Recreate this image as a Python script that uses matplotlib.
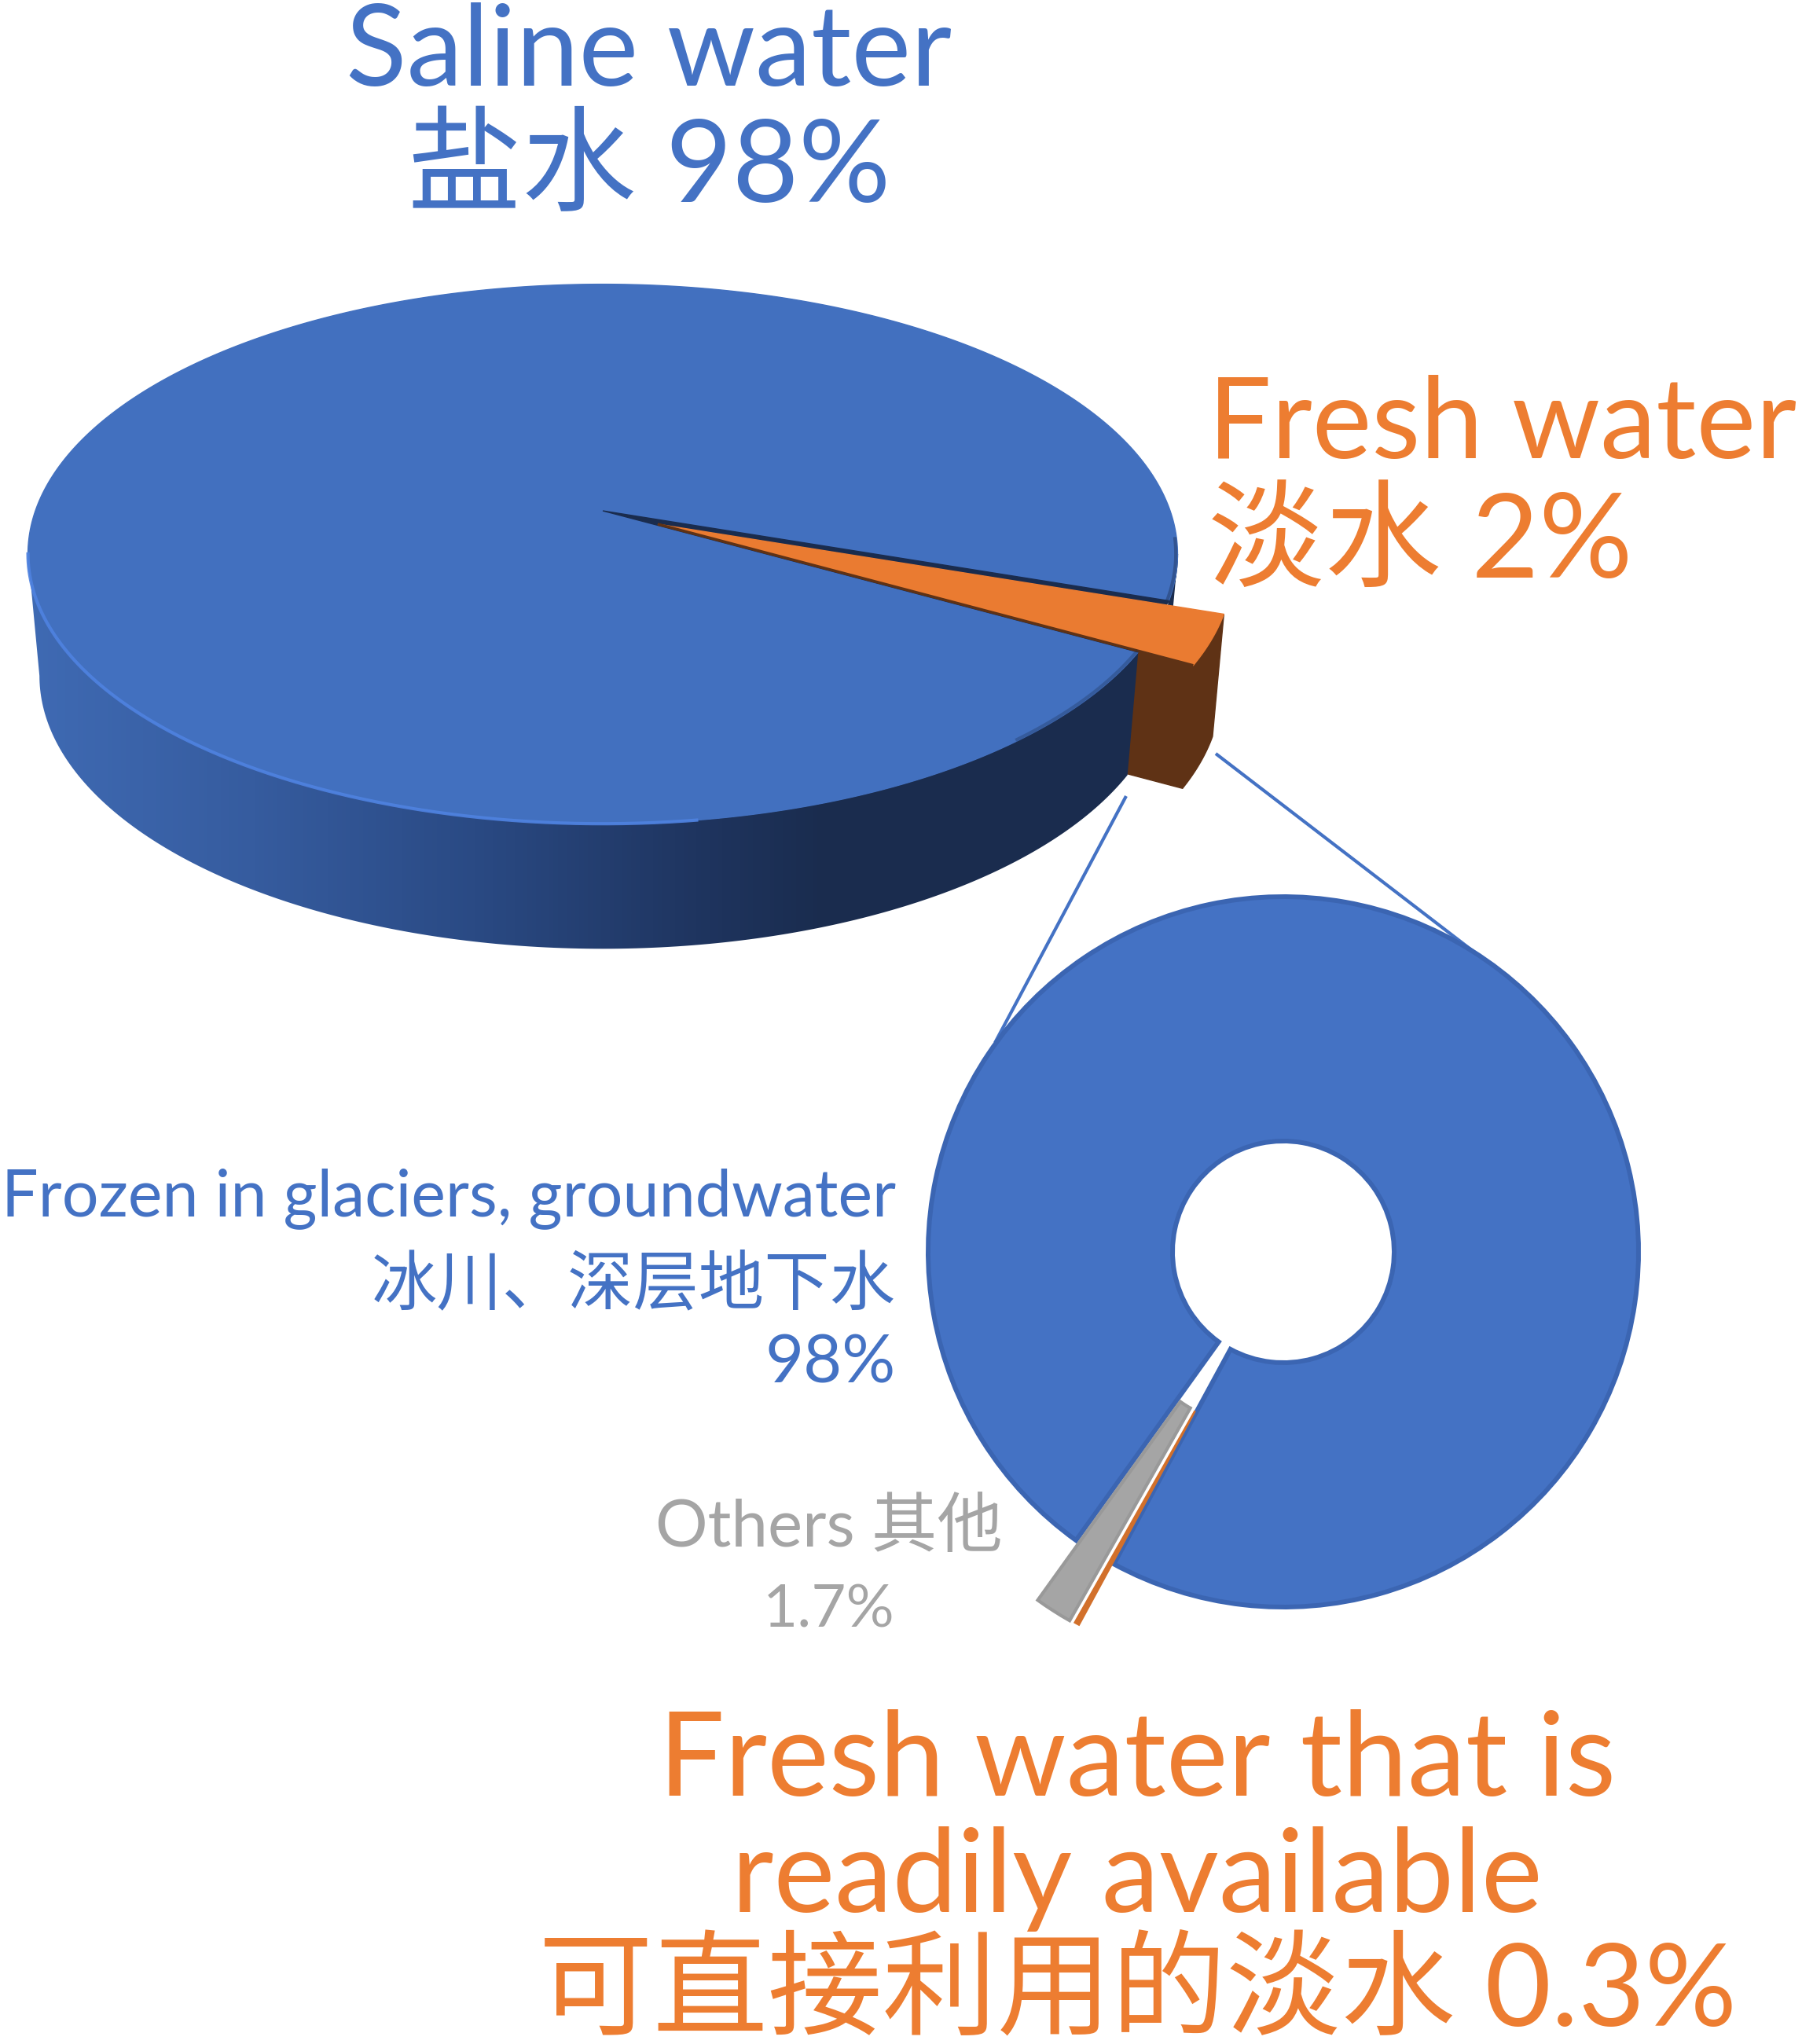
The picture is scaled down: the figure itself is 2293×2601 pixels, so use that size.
#!/usr/bin/env python3
# Saline / fresh water shares: tilted pie on top, donut for the fresh water below

import numpy as np
import matplotlib
matplotlib.use("Agg")
import matplotlib.pyplot as plt
from matplotlib.colors import LinearSegmentedColormap
from matplotlib.patches import Polygon

plt.rcParams['font.family'] = ['Lato', 'Noto Sans CJK SC', 'DejaVu Sans']

# data
world_labels = ['Saline water', 'Fresh water']
world_values = [98, 2]
fresh_labels = ['Frozen in glaciers, groundwater', 'Others', 'Readily available']
fresh_values = [98, 1.7, 0.3]

BLUE = '#4472C4'
ORANGE = '#ED7D31'
GRAY = '#A5A5A5'
NAVY = '#1A2C4E'

W, H = 2293, 2601

# view of the tilted pie, in pixels
apex_x, apex_y = 767, 650
k, a, b = 0.16, 334.5, 722
ell_cy, wall_cy = 706, 861
wall_sx, wall_sy = 0.98, 1.012
slice_mid = -24.3      # direction of the fresh water slice
view_widen = 1.49      # the 3d view makes the slice look wider than its share
pull = (70, 17)        # how far the slice is pulled out
side = np.degrees(np.arcsin(k))   # where the outline is widest


def project(theta, z=0, r=1.0):
    # circle of the pie -> picture, z=0 top face, z=1 bottom face
    t = np.radians(theta)
    u, v = r*np.cos(t), r*np.sin(t)
    x = apex_x + b*u/(1 + k*v)
    y = apex_y - a*v/(1 + k*v)
    if z:
        x = apex_x + wall_sx*(x - apex_x)
        y = wall_cy + wall_sy*(y - ell_cy)
    return np.column_stack([x, y])


fig = plt.figure(figsize=(W/100, H/100), dpi=100)
ax = fig.add_axes([0, 0, 1, 1])

half = world_values[1]/sum(world_values)*360/2*view_widen
lo, hi = slice_mid - half, slice_mid + half
apex = np.array([[apex_x, apex_y]])
off = np.array(pull)

# short wall behind the slice
back = np.linspace(hi, -side, 20)
ax.add_patch(Polygon(np.vstack([project(back), project(back[::-1], 1)]),
                     fc=NAVY, ec=NAVY, zorder=-3))

# walls of the pulled out slice
arc = np.linspace(lo, hi, 20)
brown = '#5F3215'
ax.add_patch(Polygon(np.vstack([project(arc) + off, project(arc[::-1], 1) + off]),
                     fc=brown, ec=brown, zorder=-2))
ax.add_patch(Polygon(np.vstack([apex + off, project(lo) + off, project(lo, 1) + off, apex + off + [0, 160]]),
                     fc=brown, ec=brown, zorder=-2))

# wall of the big slice, dark to the right
front = np.linspace(180 + side, 360 + lo, 200)
wall = Polygon(np.vstack([project(front), project(front[::-1], 1)]), fc='none', ec='none')
ax.add_patch(wall)
cmap = LinearSegmentedColormap.from_list('wall', [(0, '#3F6AB3'), (0.2, '#365C9F'), (0.4, '#2A4A84'),
                                                  (0.6, '#1F3560'), (0.72, NAVY), (1, NAVY)])
im = ax.imshow(np.linspace(0, 1, 256).reshape(1, -1), cmap=cmap, extent=(36, 1450, 1215, 650),
               aspect='auto', interpolation='bilinear', zorder=0)
im.set_clip_path(wall)

# top faces
top_blue = '#4270BF'
rest = np.linspace(hi, 360 + lo, 500)
ax.add_patch(Polygon(np.vstack([apex, project(rest)]), fc=top_blue, ec=top_blue, lw=1, zorder=1))
ax.add_patch(Polygon(np.vstack([apex, project(hi), project(lo)]), fc=NAVY, ec=NAVY, lw=1, zorder=1))
ax.add_patch(Polygon(np.vstack([apex + off, project(arc) + off]), fc='#EA7B31', ec='#EA7B31', lw=1, zorder=2))
edge = np.vstack([apex + off, project(lo) + off])
ax.plot(edge[:, 0], edge[:, 1], color=brown, lw=2.5, solid_capstyle='butt', zorder=3)

# light rim along the front left, soft dark one on the right
rim = project(np.linspace(180 + side, 278, 200))
ax.plot(rim[:, 0], rim[:, 1], color='#4F82E0', lw=3, alpha=0.9, zorder=3)
shade = project(np.linspace(310, 360 + lo, 40), r=0.997)
ax.plot(shade[:, 0], shade[:, 1], color=NAVY, lw=3, alpha=0.3, zorder=3)
shade = project(np.linspace(hi, -6, 20), r=0.997)
ax.plot(shade[:, 0], shade[:, 1], color=NAVY, lw=3, alpha=0.4, zorder=3)

# lines from the slice down to the donut
ax.plot([1433, 1266], [1013, 1327], color=BLUE, lw=3, solid_capstyle='butt')
ax.plot([1547, 1887], [959, 1220], color=BLUE, lw=3, solid_capstyle='butt')

# text: (string, x, y, ha, size, color)
texts = [
    ('Saline water', 825, 69, 'center', 103, BLUE),
    ('盐水 98%', 826, 215, 'center', 105, BLUE),
    ('Fresh water', 1537, 543, 'left', 103, ORANGE),
    ('淡水 2%', 1537, 693, 'left', 107, ORANGE),
    ('Frozen in glaciers, groundwater', 1140, 1525, 'right', 59.5, BLUE),
    ('冰川、深层地下水', 1140, 1635, 'right', 60, BLUE),
    ('98%', 1140, 1736, 'right', 61, BLUE),
    ('Others 其他', 1055, 1945, 'center', 60, GRAY),
    ('1.7%', 1055, 2049, 'center', 55, GRAY),
    ('Fresh water that is', 1447, 2243, 'center', 107, ORANGE),
    ('readily available', 1447, 2391, 'center', 106, ORANGE),
    ('可直接利用的淡水 0.3%', 1447, 2535, 'center', 105, ORANGE),
]
for s, x, y, ha, size, color in texts:
    ax.text(x, y, s, ha=ha, va='center', fontsize=size, color=color, zorder=4)

ax.set_xlim(0, W)
ax.set_ylim(H, 0)
ax.axis('off')

# donut with the fresh water split
cx, cy, radius = 1633, 1593, 452
span = 1.25*radius
ax2 = fig.add_axes([(cx - span)/W, 1 - (cy + span)/H, 2*span/W, 2*span/H])
wedges, _ = ax2.pie(fresh_values, colors=[BLUE, GRAY, '#D2702B'], explode=[0, 0.2, 0.2],
                    startangle=241.5, counterclock=True,
                    wedgeprops=dict(width=1 - 141/452))
for w, ec, lw in zip(wedges, ['#3B65B2', '#999999', '#D2702B'], [4.3, 3, 0]):
    w.set_edgecolor(ec)
    w.set_linewidth(lw)
ax2.set_xlim(-1.25, 1.25)
ax2.set_ylim(-1.25, 1.25)

plt.savefig('out.png', dpi=100)
